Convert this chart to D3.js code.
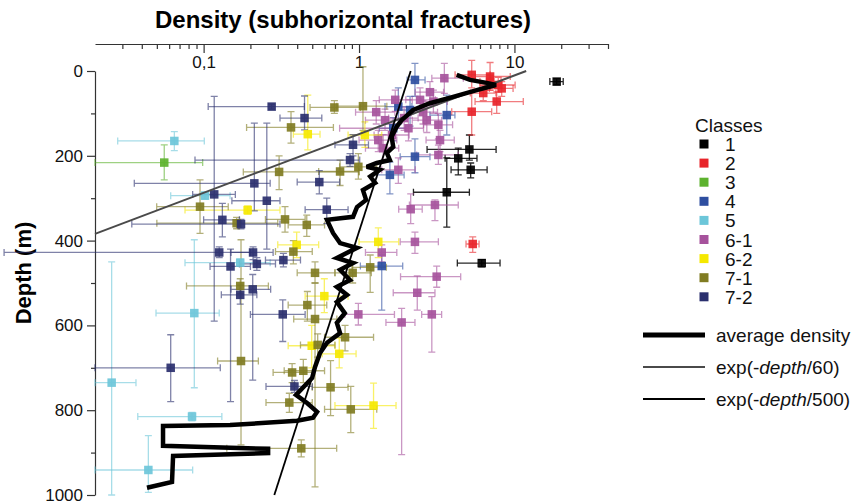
<!DOCTYPE html>
<html>
<head>
<meta charset="utf-8">
<script src="https://cdnjs.cloudflare.com/ajax/libs/d3/7.8.5/d3.min.js"></script>
<style>
  body { margin: 0; background: #fff; }
  svg { display: block; font-family: "Liberation Sans", Arial, sans-serif; }
</style>
</head>
<body>
<svg id="chart" width="851" height="504"></svg>
<script>
// each point: [density, depth, densityLow, densityHigh, depthLow, depthHigh]
const class1 = [
  [18.7, 25, 16.9, 20.6, 18, 32],
  [5.13, 185, 2.74, 7.62, 151, 210],
  [4.35, 206, 3.58, 5.74, 182, 245],
  [5.23, 233, 3.91, 6.67, 217, 252],
  [3.67, 286, 2.24, 5.13, 205, 368],
  [6.16, 453, 4.29, 8.08, 445, 462]
];
const class2 = [
  [5.31, 9, 4.15, 6.97, -25, 40],
  [6.97, 13, 5.6, 9.4, -20, 45],
  [6.97, 25, 6.0, 8.2, 10, 45],
  [7.87, 33, 6.0, 10.1, 15, 50],
  [8.28, 41, 6.9, 9.8, 25, 60],
  [6.3, 52, 5.2, 7.6, 35, 70],
  [7.69, 72, 5.58, 11.4, 49, 100],
  [5.31, 96, 3.95, 7.14, 49, 151],
  [5.39, 408, 4.88, 5.92, 391, 428]
];
const class3 = [
  [0.0558, 216, 0.02, 0.0986, 174, 257]
];
const class4 = [
  [2.29, 21, 2.04, 2.66, -18, 60],
  [1.79, 84, 1.47, 2.19, 40, 125],
  [2.13, 92, 1.8, 2.6, 60, 130],
  [3.67, 104, 2.86, 4.14, 57, 151],
  [1.66, 135, 1.35, 2.0, 110, 165],
  [2.29, 202, 1.84, 2.86, 160, 240],
  [1.58, 245, 1.3, 1.95, 215, 290],
  [1.40, 460, 1.02, 1.91, 434, 564]
];
const class5 = [
  [0.0648, 165, 0.028, 0.101, 143, 188],
  [0.102, 294, 0.0614, 0.148, 286, 302],
  [0.172, 452, 0.0759, 0.268, 444, 460],
  [0.0871, 571, 0.0494, 0.126, 398, 747],
  [0.0256, 735, 0.02, 0.0367, 450, 1000],
  [0.0842, 815, 0.0377, 0.131, 805, 825],
  [0.0441, 941, 0.02, 0.085, 860, 994]
];
const class61 = [
  [3.54, 17, 2.94, 4.69, -18, 53],
  [2.47, 68, 2.0, 3.1, 40, 95],
  [3.01, 72, 2.5, 3.7, 45, 100],
  [2.86, 50, 2.3, 3.5, 25, 80],
  [1.71, 68, 1.35, 2.2, 45, 95],
  [1.29, 97, 0.95, 1.7, 70, 125],
  [2.58, 97, 2.1, 3.2, 70, 125],
  [1.95, 111, 1.55, 2.4, 85, 140],
  [2.73, 116, 2.2, 3.4, 85, 145],
  [1.47, 116, 1.1, 1.9, 90, 140],
  [3.24, 127, 2.6, 4.0, 100, 160],
  [2.08, 135, 0.75, 2.6, 105, 165],
  [1.63, 151, 1.25, 2.1, 125, 180],
  [1.33, 163, 1.0, 1.75, 140, 190],
  [3.32, 163, 2.7, 4.1, 140, 190],
  [1.43, 182, 1.1, 1.8, 150, 215],
  [3.24, 198, 2.35, 4.35, 175, 220],
  [1.79, 233, 1.4, 2.3, 205, 265],
  [3.08, 316, 2.11, 4.35, 304, 353],
  [2.15, 326, 1.8, 2.55, 290, 360],
  [2.29, 403, 1.84, 3.24, 380, 430],
  [1.40, 428, 1.1, 1.75, 410, 450],
  [3.16, 485, 1.85, 4.51, 460, 510],
  [2.37, 523, 1.66, 3.08, 483, 564],
  [2.94, 574, 2.53, 3.40, 532, 663],
  [0.99, 574, 0.81, 1.69, 548, 599],
  [1.88, 593, 1.49, 2.29, 560, 905]
];
const class62 = [
  [0.468, 149, 0.378, 0.561, 57, 186],
  [1.09, 151, 0.85, 1.4, 120, 180],
  [0.192, 328, 0.0759, 0.31, 318, 338],
  [0.397, 410, 0.3, 0.55, 380, 440],
  [1.33, 403, 1.0, 1.8, 370, 440],
  [0.598, 531, 0.45, 0.85, 490, 570],
  [0.496, 648, 0.35, 0.7, 600, 700],
  [0.746, 667, 0.58, 0.957, 630, 700],
  [1.24, 789, 0.70, 1.73, 736, 843]
];
const class71 = [
  [0.694, 86, 0.484, 1.02, 70, 100],
  [1.06, 83, 0.72, 1.51, -10, 140],
  [0.365, 133, 0.189, 0.684, 96, 170],
  [0.99, 226, 0.75, 1.3, 195, 255],
  [0.306, 238, 0.18, 1.0, 200, 280],
  [0.755, 237, 0.55, 1.0, 210, 270],
  [0.0948, 320, 0.0499, 0.144, 257, 383],
  [0.334, 350, 0.25, 0.45, 320, 380],
  [0.461, 363, 0.35, 0.6, 340, 390],
  [0.163, 359, 0.05, 0.3, 345, 372],
  [0.378, 426, 0.29, 0.5, 400, 455],
  [1.18, 463, 0.9, 1.5, 434, 522],
  [0.91, 476, 0.7, 1.2, 450, 500],
  [0.521, 476, 0.4, 0.7, 450, 500],
  [0.172, 507, 0.0776, 0.261, 490, 525],
  [0.465, 552, 0.35, 0.62, 520, 590],
  [0.521, 585, 0.38, 0.72, 500, 981],
  [0.813, 628, 0.6, 1.24, 600, 660],
  [0.542, 646, 0.42, 0.7, 620, 675],
  [0.174, 684, 0.123, 0.225, 398, 882],
  [0.371, 711, 0.28, 0.5, 690, 735],
  [0.438, 707, 0.33, 0.6, 680, 735],
  [0.656, 746, 0.5, 0.85, 683, 813],
  [0.356, 782, 0.252, 0.5, 760, 805],
  [0.885, 798, 0.6, 1.30, 744, 853],
  [0.425, 890, 0.141, 0.718, 870, 910]
];
const class72 = [
  [0.274, 84, 0.107, 0.445, 78, 90],
  [0.446, 111, 0.31, 0.576, 59, 139],
  [0.915, 174, 0.7, 1.15, 150, 200],
  [0.875, 210, 0.088, 1.01, 195, 225],
  [0.555, 262, 0.4, 0.75, 235, 290],
  [0.212, 265, 0.0358, 0.268, 123, 330],
  [0.117, 291, 0.085, 0.16, 60, 590],
  [0.255, 306, 0.152, 0.31, 123, 420],
  [0.62, 327, 0.45, 0.85, 300, 360],
  [0.132, 351, 0.1, 0.17, 312, 391],
  [0.174, 361, 0.0345, 0.31, 350, 372],
  [0.126, 428, 0.0052, 0.2, 415, 440],
  [0.208, 428, 0.15, 0.28, 415, 445],
  [0.326, 446, 0.25, 0.42, 430, 462],
  [0.22, 455, 0.17, 0.29, 440, 470],
  [0.149, 461, 0.11, 0.2, 420, 780],
  [0.207, 515, 0.15, 0.27, 480, 729],
  [0.172, 528, 0.13, 0.22, 505, 550],
  [0.323, 574, 0.2, 0.45, 540, 638],
  [0.0614, 700, 0.02, 0.128, 622, 780],
  [0.384, 744, 0.252, 0.5, 730, 758]
];

const classNames = ['1', '2', '3', '4', '5', '6-1', '6-2', '7-1', '7-2'];
const classColors = ['#000000', '#e8242a', '#5db22e', '#2e4ea0', '#6cc6d9', '#a6529c', '#f5e800', '#807c22', '#2a2f6e'];
const classData = [class1, class2, class3, class4, class5, class61, class62, class71, class72];

// average density profile: [density, depth]
const averageDensity = [
  [4.25, 9], [5.18, 21], [6.63, 28], [7.61, 33], [5.72, 45], [4.03, 61], [2.86, 76],
  [2.23, 92], [1.88, 116], [1.75, 131], [1.62, 155], [1.66, 179], [1.51, 193], [1.58, 210],
  [1.30, 217], [1.12, 226], [1.36, 233], [1.18, 249], [1.27, 264], [1.06, 281], [1.11, 304],
  [0.97, 321], [0.915, 344], [0.622, 351], [0.68, 382], [0.755, 406], [0.97, 417], [0.72, 441],
  [0.915, 453], [0.755, 469], [0.875, 493], [0.72, 509], [0.837, 528], [0.72, 545], [0.81, 571],
  [0.72, 594], [0.755, 618], [0.622, 641], [0.561, 665], [0.521, 698], [0.499, 724], [0.393, 764],
  [0.463, 783], [0.537, 804], [0.506, 818], [0.399, 825], [0.148, 835], [0.0548, 837],
  [0.0548, 884], [0.26, 891], [0.26, 901], [0.0636, 908], [0.0626, 969], [0.0432, 983]
];
// straight on the log axis, so the two ends are enough
const exp60Line = [[11.9, 0], [0.02, 384]];
const exp500Line = [[2.15, 0], [0.285, 1000]];

const xMajorTicks = [0.1, 1, 10];
const xTickLabels = ['0,1', '1', '10'];
const xMinorTicks = [0.03, 0.04, 0.05, 0.06, 0.07, 0.08, 0.09, 0.2, 0.3, 0.4, 0.5, 0.6, 0.7, 0.8, 0.9,
  2, 3, 4, 5, 6, 7, 8, 9, 20, 30, 40];
const yMajorTicks = [0, 200, 400, 600, 800, 1000];
const yMinorTicks = [100, 300, 500, 700, 900];

const svg = d3.select('#chart');

const x = d3.scaleLog().domain([0.02, 40]).range([95, 608]);
const y = d3.scaleLinear().domain([0, 1000]).range([71, 495]);

// title and axis label
svg.append('text')
  .attr('x', 343).attr('y', 28)
  .attr('text-anchor', 'middle')
  .attr('font-size', 24).attr('font-weight', 'bold')
  .text('Density (subhorizontal fractures)');

svg.append('text')
  .attr('transform', 'translate(31,273) rotate(-90)')
  .attr('text-anchor', 'middle')
  .attr('font-size', 22).attr('font-weight', 'bold')
  .text('Depth (m)');

// axes
const styleAxis = g => {
  g.selectAll('path, line').attr('stroke', '#333').attr('stroke-width', 1.2);
  g.selectAll('text').attr('font-size', 17).attr('fill', '#111')
    .attr('font-family', '"Liberation Sans", Arial, sans-serif');
};

svg.append('g')
  .attr('transform', 'translate(0,44)')
  .call(d3.axisBottom(x).tickValues(xMajorTicks)
    .tickFormat((d, i) => xTickLabels[i]).tickSize(9).tickSizeOuter(0).tickPadding(3))
  .call(styleAxis);

svg.append('g')
  .attr('transform', 'translate(0,44)')
  .call(d3.axisBottom(x).tickValues(xMinorTicks).tickFormat('').tickSize(5))
  .call(g => g.select('.domain').remove())
  .call(styleAxis);

svg.append('g')
  .attr('transform', 'translate(95,0)')
  .call(d3.axisLeft(y).tickValues(yMajorTicks).tickFormat(d => String(d))
    .tickSize(8).tickSizeOuter(0).tickPadding(4))
  .call(styleAxis);

svg.append('g')
  .attr('transform', 'translate(95,0)')
  .call(d3.axisLeft(y).tickValues(yMinorTicks).tickFormat('').tickSize(4))
  .call(g => g.select('.domain').remove())
  .call(styleAxis);

// error bars
const cap = 3.5;
const bars = svg.append('g');
classData.forEach((pts, ci) => {
  const g = bars.append('g')
    .attr('stroke', classColors[ci])
    .attr('stroke-width', 1.3)
    .attr('stroke-opacity', ci === 0 ? 0.85 : 0.6)
    .attr('fill', 'none');
  pts.forEach(p => {
    const cx = x(p[0]), cy = y(p[1]);
    const x0 = x(p[2]), x1 = x(p[3]), y0 = y(p[4]), y1 = y(p[5]);
    const path = d3.path();
    path.moveTo(x0, cy); path.lineTo(x1, cy);
    path.moveTo(x0, cy - cap); path.lineTo(x0, cy + cap);
    path.moveTo(x1, cy - cap); path.lineTo(x1, cy + cap);
    path.moveTo(cx, y0); path.lineTo(cx, y1);
    path.moveTo(cx - cap, y0); path.lineTo(cx + cap, y0);
    path.moveTo(cx - cap, y1); path.lineTo(cx + cap, y1);
    g.append('path').attr('d', path.toString());
  });
});

// squares
const sq = 8.5;
classData.forEach((pts, ci) => {
  svg.append('g').selectAll('rect')
    .data(pts)
    .enter()
    .append('rect')
    .attr('x', d => x(d[0]) - sq / 2)
    .attr('y', d => y(d[1]) - sq / 2)
    .attr('width', sq).attr('height', sq)
    .attr('fill', classColors[ci])
    .attr('fill-opacity', 0.92);
});

// model lines and average
const line = d3.line().x(d => x(d[0])).y(d => y(d[1]));

svg.append('path')
  .datum(exp60Line)
  .attr('d', line)
  .attr('fill', 'none').attr('stroke', '#4a4a4a').attr('stroke-width', 2);

svg.append('path')
  .datum(exp500Line)
  .attr('d', line)
  .attr('fill', 'none').attr('stroke', '#000').attr('stroke-width', 1.8);

svg.append('path')
  .datum(averageDensity)
  .attr('d', line)
  .attr('fill', 'none').attr('stroke', '#000').attr('stroke-width', 4.5)
  .attr('stroke-linejoin', 'miter').attr('stroke-miterlimit', 3);

// legend
const legend = svg.append('g').attr('font-size', 19).attr('fill', '#111');
legend.append('text').attr('x', 695).attr('y', 132).text('Classes');
classNames.forEach((name, i) => {
  const ly = 144 + i * 19.1;
  legend.append('rect')
    .attr('x', 699.5).attr('y', ly - 4.5)
    .attr('width', 9).attr('height', 9)
    .attr('fill', classColors[i]);
  legend.append('text').attr('x', 725).attr('y', ly + 7).text(name);
});

const lineLegend = [
  { y: 335, width: 5, color: '#000', parts: [['average density', 'normal']] },
  { y: 367, width: 2, color: '#4a4a4a', parts: [['exp(-', 'normal'], ['depth', 'italic'], ['/60)', 'normal']] },
  { y: 399, width: 2, color: '#000', parts: [['exp(-', 'normal'], ['depth', 'italic'], ['/500)', 'normal']] }
];
lineLegend.forEach(item => {
  legend.append('line')
    .attr('x1', 643).attr('x2', 705)
    .attr('y1', item.y).attr('y2', item.y)
    .attr('stroke', item.color).attr('stroke-width', item.width);
  const t = legend.append('text').attr('x', 716).attr('y', item.y + 6.5);
  item.parts.forEach(p => t.append('tspan').attr('font-style', p[1]).text(p[0]));
});
</script>
</body>
</html>
